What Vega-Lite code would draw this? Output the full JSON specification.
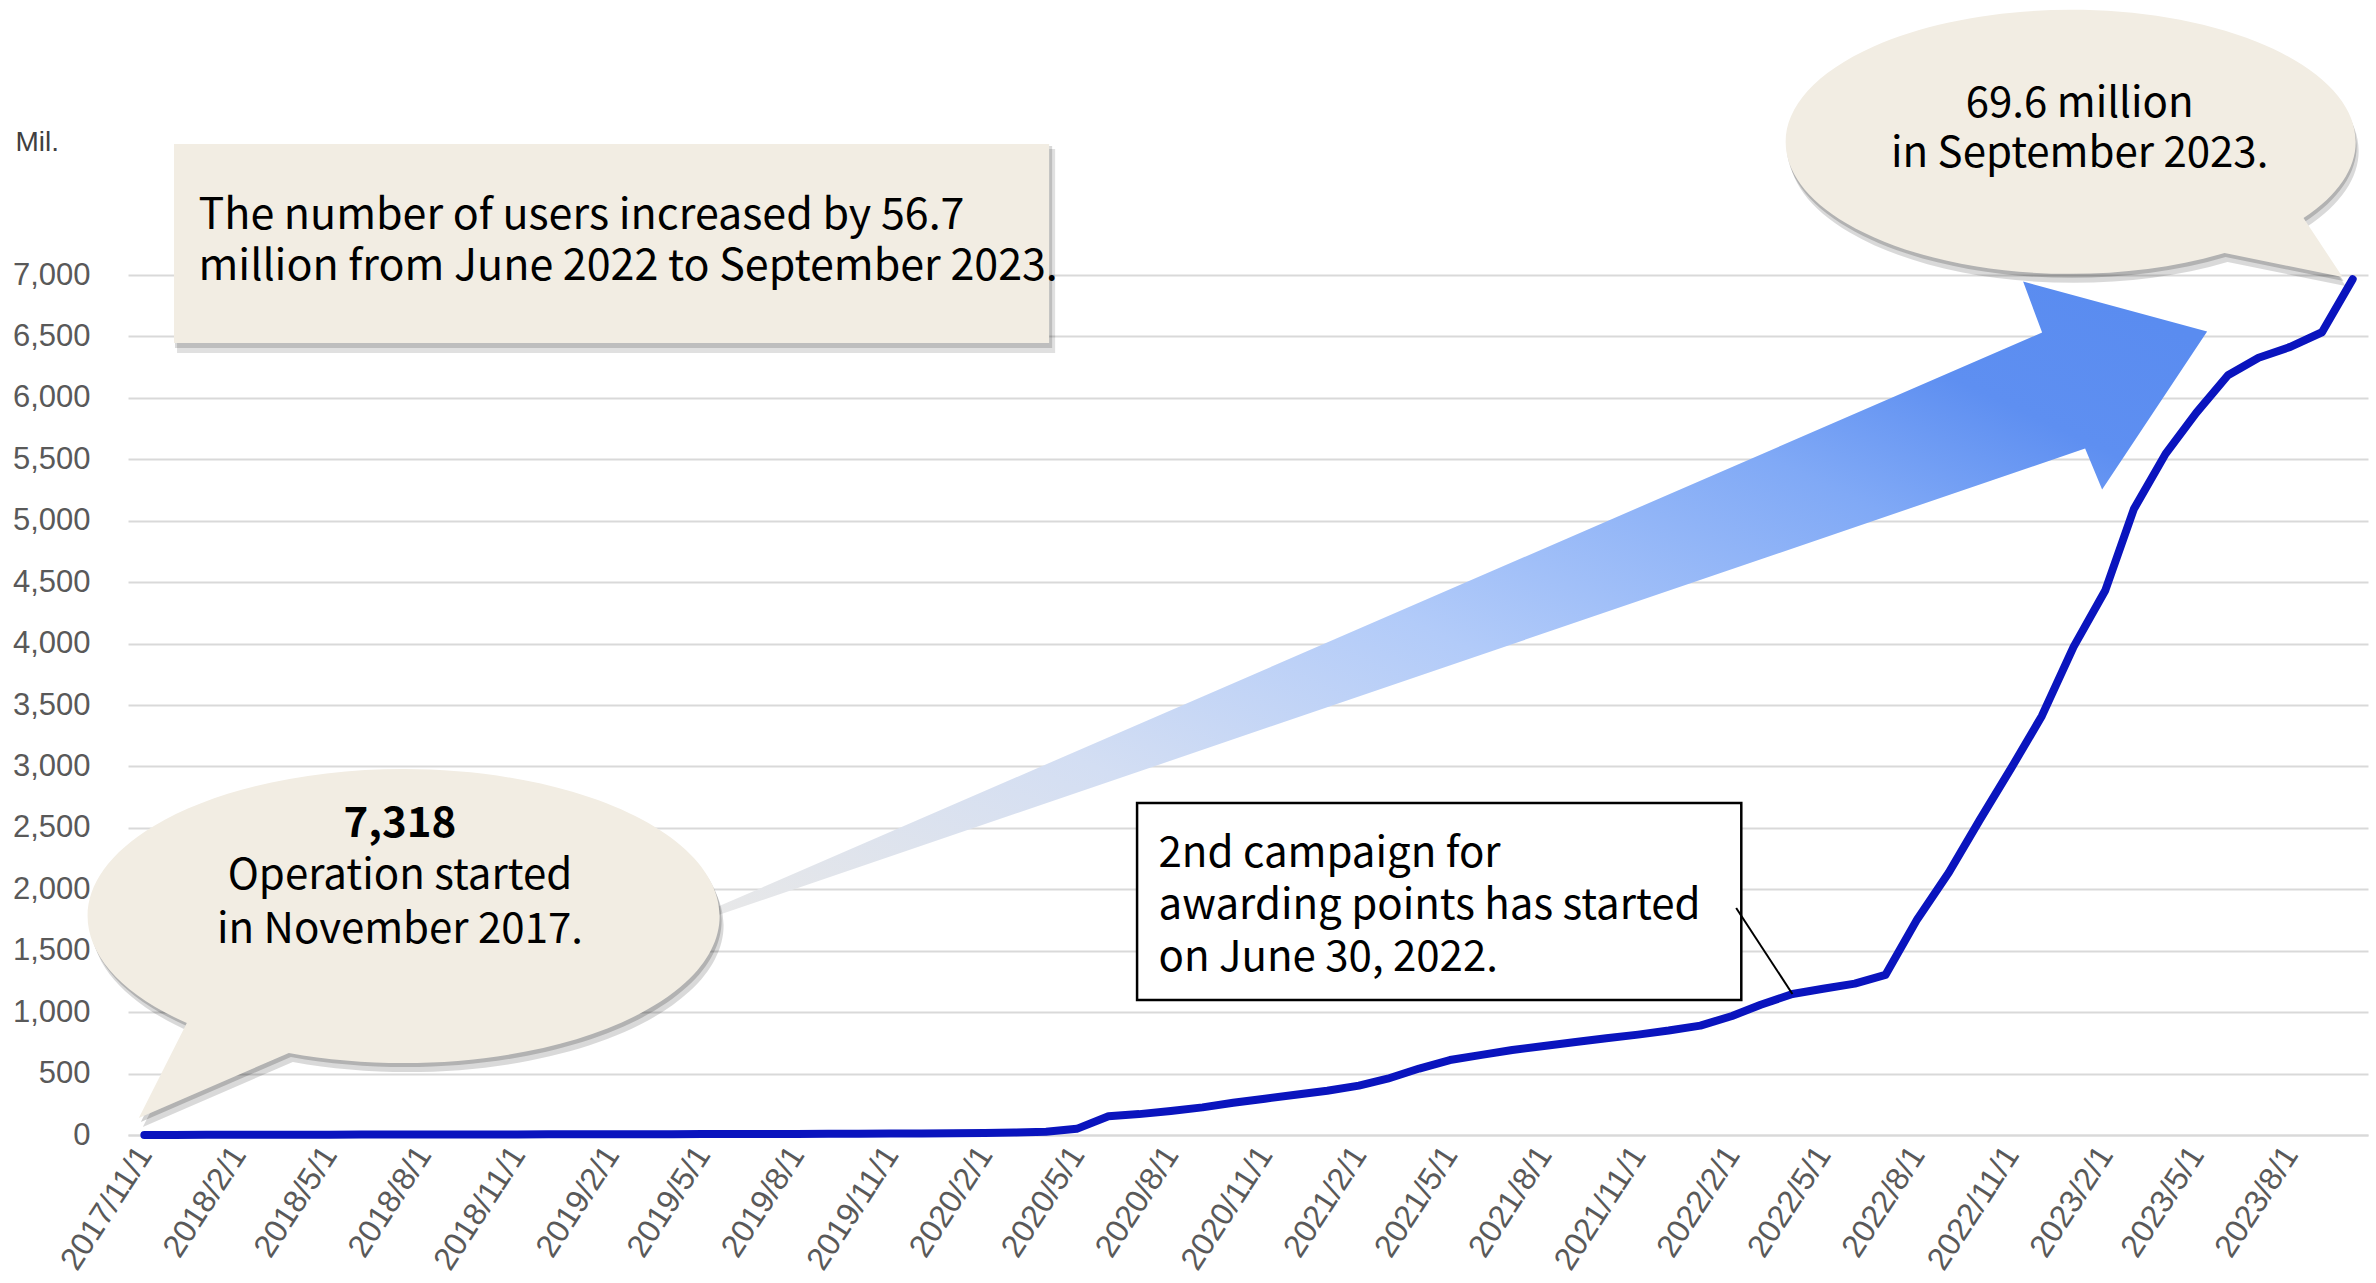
{
  "$schema": "https://vega.github.io/schema/vega-lite/v6.json",
  "autosize": {"type": "none"},
  "padding": {"left": 128, "top": 275, "right": 8, "bottom": 148},
  "width": 2240,
  "height": 860,
  "background": "white",
  "config": {"view": {"stroke": null}},
  "layer": [
    {
      "data": {"values": [
        {"date": "2017/11/01", "users": 0.7},
        {"date": "2017/12/01", "users": 1},
        {"date": "2018/01/01", "users": 1.5},
        {"date": "2018/02/01", "users": 2},
        {"date": "2018/03/01", "users": 2.5},
        {"date": "2018/04/01", "users": 3},
        {"date": "2018/05/01", "users": 3},
        {"date": "2018/06/01", "users": 3.5},
        {"date": "2018/07/01", "users": 4},
        {"date": "2018/08/01", "users": 4},
        {"date": "2018/09/01", "users": 4.5},
        {"date": "2018/10/01", "users": 5},
        {"date": "2018/11/01", "users": 5},
        {"date": "2018/12/01", "users": 5.5},
        {"date": "2019/01/01", "users": 6},
        {"date": "2019/02/01", "users": 6},
        {"date": "2019/03/01", "users": 7},
        {"date": "2019/04/01", "users": 7},
        {"date": "2019/05/01", "users": 8},
        {"date": "2019/06/01", "users": 8},
        {"date": "2019/07/01", "users": 9},
        {"date": "2019/08/01", "users": 9},
        {"date": "2019/09/01", "users": 10},
        {"date": "2019/10/01", "users": 11},
        {"date": "2019/11/01", "users": 12},
        {"date": "2019/12/01", "users": 13},
        {"date": "2020/01/01", "users": 14},
        {"date": "2020/02/01", "users": 16},
        {"date": "2020/03/01", "users": 20},
        {"date": "2020/04/01", "users": 27},
        {"date": "2020/05/01", "users": 50},
        {"date": "2020/06/01", "users": 152},
        {"date": "2020/07/01", "users": 170},
        {"date": "2020/08/01", "users": 195},
        {"date": "2020/09/01", "users": 225},
        {"date": "2020/10/01", "users": 262},
        {"date": "2020/11/01", "users": 295},
        {"date": "2020/12/01", "users": 328},
        {"date": "2021/01/01", "users": 360},
        {"date": "2021/02/01", "users": 402},
        {"date": "2021/03/01", "users": 458},
        {"date": "2021/04/01", "users": 541},
        {"date": "2021/05/01", "users": 610},
        {"date": "2021/06/01", "users": 652},
        {"date": "2021/07/01", "users": 692},
        {"date": "2021/08/01", "users": 725},
        {"date": "2021/09/01", "users": 757},
        {"date": "2021/10/01", "users": 787},
        {"date": "2021/11/01", "users": 817},
        {"date": "2021/12/01", "users": 850},
        {"date": "2022/01/01", "users": 890},
        {"date": "2022/02/01", "users": 969},
        {"date": "2022/03/01", "users": 1060},
        {"date": "2022/04/01", "users": 1148},
        {"date": "2022/05/01", "users": 1190},
        {"date": "2022/06/01", "users": 1232},
        {"date": "2022/07/01", "users": 1303},
        {"date": "2022/08/01", "users": 1755},
        {"date": "2022/09/01", "users": 2136},
        {"date": "2022/10/01", "users": 2561},
        {"date": "2022/11/01", "users": 2986},
        {"date": "2022/12/01", "users": 3411},
        {"date": "2023/01/01", "users": 3973},
        {"date": "2023/02/01", "users": 4432},
        {"date": "2023/03/01", "users": 5095},
        {"date": "2023/04/01", "users": 5544},
        {"date": "2023/05/01", "users": 5878},
        {"date": "2023/06/01", "users": 6184},
        {"date": "2023/07/01", "users": 6327},
        {"date": "2023/08/01", "users": 6415},
        {"date": "2023/09/01", "users": 6534},
        {"date": "2023/10/01", "users": 6966}
      ]},
      "mark": {"type": "line", "color": "#0A14BE", "strokeWidth": 8, "strokeCap": "round", "strokeJoin": "round"},
      "encoding": {
        "x": {
          "field": "date", "type": "temporal",
          "scale": {"domain": [{"year": 2017, "month": 10, "date": 16}, {"year": 2023, "month": 10, "date": 16}], "nice": false},
          "axis": {
            "title": null,
            "values": [
              {"year": 2017, "month": 11, "date": 1}, {"year": 2018, "month": 2, "date": 1}, {"year": 2018, "month": 5, "date": 1}, {"year": 2018, "month": 8, "date": 1},
              {"year": 2018, "month": 11, "date": 1}, {"year": 2019, "month": 2, "date": 1}, {"year": 2019, "month": 5, "date": 1}, {"year": 2019, "month": 8, "date": 1},
              {"year": 2019, "month": 11, "date": 1}, {"year": 2020, "month": 2, "date": 1}, {"year": 2020, "month": 5, "date": 1}, {"year": 2020, "month": 8, "date": 1},
              {"year": 2020, "month": 11, "date": 1}, {"year": 2021, "month": 2, "date": 1}, {"year": 2021, "month": 5, "date": 1}, {"year": 2021, "month": 8, "date": 1},
              {"year": 2021, "month": 11, "date": 1}, {"year": 2022, "month": 2, "date": 1}, {"year": 2022, "month": 5, "date": 1}, {"year": 2022, "month": 8, "date": 1},
              {"year": 2022, "month": 11, "date": 1}, {"year": 2023, "month": 2, "date": 1}, {"year": 2023, "month": 5, "date": 1}, {"year": 2023, "month": 8, "date": 1}
            ],
            "format": "%Y/%-m/%-d",
            "labelAngle": -57,
            "labelAlign": "right",
            "labelBaseline": "middle",
            "labelFont": "Liberation Sans",
            "labelFontSize": 32,
            "labelColor": "#595959",
            "labelPadding": 14,
            "labelOverlap": false,
            "labelFlush": false,
            "labelBound": false,
            "ticks": false,
            "grid": false,
            "domain": true,
            "domainColor": "#d9d9d9",
            "domainWidth": 2
          }
        },
        "y": {
          "field": "users", "type": "quantitative",
          "scale": {"domain": [0, 7000], "nice": false},
          "axis": {
            "values": [0, 500, 1000, 1500, 2000, 2500, 3000, 3500, 4000, 4500, 5000, 5500, 6000, 6500, 7000],
            "format": ",d",
            "labelFont": "Liberation Sans",
            "labelFontSize": 31,
            "labelColor": "#595959",
            "labelPadding": 38,
            "labelFlush": false,
            "labelOverlap": false,
            "ticks": false,
            "domain": false,
            "grid": true,
            "gridColor": "#d9d9d9",
            "gridWidth": 2,
            "title": "Mil.",
            "titleAngle": 0,
            "titleX": -113,
            "titleY": -133,
            "titleAlign": "left",
            "titleBaseline": "middle",
            "titleFont": "Liberation Sans",
            "titleFontSize": 28,
            "titleFontWeight": "normal",
            "titleColor": "#404040"
          }
        }
      }
    },
    {
      "data": {"values": [{"date": "2017/11/30", "date2": "2020/04/04", "value": 8066, "value2": 6446}]},
      "layer": [
        {"mark": {"type": "rect", "fill": "#000000", "opacity": 0.12, "xOffset": 3, "x2Offset": 6, "yOffset": 5, "y2Offset": 10}},
        {"mark": {"type": "rect", "fill": "#000000", "opacity": 0.15, "xOffset": 1, "x2Offset": 3, "yOffset": 2, "y2Offset": 5}},
        {"mark": {"type": "rect", "fill": "#F2EDE3"}}
      ],
      "encoding": {
        "x": {"field": "date", "type": "temporal"},
        "x2": {"field": "date2"},
        "y": {"field": "value", "type": "quantitative"},
        "y2": {"field": "value2"}
      }
    },
    {
      "data": {"values": [{"date": "2017/12/24", "value": 7480, "label": "The number of users increased by 56.7\nmillion from June 2022 to September 2023."}]},
      "mark": {"type": "text", "font": "Noto Sans CJK JP", "fontSize": 43, "align": "left", "baseline": "middle", "lineBreak": "\n", "lineHeight": 51, "color": "#000000"},
      "encoding": {
        "x": {"field": "date", "type": "temporal"},
        "y": {"field": "value", "type": "quantitative"},
        "text": {"field": "label"}
      }
    },
    {
      "data": {"values": [{"date": "2021/05/10", "value": 4350}]},
      "mark": {
        "type": "point", "filled": true, "opacity": 1, "strokeWidth": 0, "size": 4,
        "shape": "M-748,309L583,-268L564,-319L748,-269L643,-111L626,-152L-748,317Z",
        "fill": {"gradient": "linear", "x1": 0, "y1": 1, "x2": 1, "y2": 0.1,
          "stops": [
            {"offset": 0, "color": "#E8E8E8"},
            {"offset": 0.26, "color": "#D3DEF3"},
            {"offset": 0.49, "color": "#B2CBF9"},
            {"offset": 0.75, "color": "#80A9F6"},
            {"offset": 0.88, "color": "#5E8FF1"},
            {"offset": 1, "color": "#5A8CF0"}
          ]}
      },
      "encoding": {
        "x": {"field": "date", "type": "temporal"},
        "y": {"field": "value", "type": "quantitative"}
      }
    },
    {
      "data": {"values": [{"date": "2018/07/03", "value": 1823}]},
      "layer": [
        {"mark": {"type": "point", "filled": true, "opacity": 0.15, "strokeWidth": 0, "size": 4, "fill": "#000000", "xOffset": 4, "yOffset": 9,
          "shape": "M-105,142L-255,207L-207,112A316,147,0,1,1,-105,142Z"}},
        {"mark": {"type": "point", "filled": true, "opacity": 0.18, "strokeWidth": 0, "size": 4, "fill": "#000000", "xOffset": 2, "yOffset": 4,
          "shape": "M-105,142L-255,207L-207,112A316,147,0,1,1,-105,142Z"}},
        {"mark": {"type": "point", "filled": true, "opacity": 1, "strokeWidth": 0, "size": 4, "fill": "#F2EDE3",
          "shape": "M-105,142L-255,207L-207,112A316,147,0,1,1,-105,142Z"}}
      ],
      "encoding": {
        "x": {"field": "date", "type": "temporal"},
        "y": {"field": "value", "type": "quantitative"}
      }
    },
    {
      "data": {"values": [
        {"date": "2018/07/09", "value": 2531, "label": "7,318", "weight": "bold"},
        {"date": "2018/07/09", "value": 2108, "label": "Operation started\nin November 2017.", "weight": "normal"}
      ]},
      "layer": [
        {"transform": [{"filter": "datum.weight === 'bold'"}],
         "mark": {"type": "text", "font": "Noto Sans CJK JP", "fontSize": 42, "fontWeight": "bold", "align": "center", "baseline": "middle", "color": "#000000"}},
        {"transform": [{"filter": "datum.weight === 'normal'"}],
         "mark": {"type": "text", "font": "Noto Sans CJK JP", "fontSize": 42, "align": "center", "baseline": "middle", "lineBreak": "\n", "lineHeight": 54, "color": "#000000"}}
      ],
      "encoding": {
        "x": {"field": "date", "type": "temporal"},
        "y": {"field": "value", "type": "quantitative"},
        "text": {"field": "label"}
      }
    },
    {
      "data": {"values": [{"date": "2022/12/30", "value": 8099}]},
      "layer": [
        {"mark": {"type": "point", "filled": true, "opacity": 0.15, "strokeWidth": 0, "size": 4, "fill": "#000000", "xOffset": 3, "yOffset": 9,
          "shape": "M232,78L271,137L153,113A285,132,0,1,1,232,78Z"}},
        {"mark": {"type": "point", "filled": true, "opacity": 0.18, "strokeWidth": 0, "size": 4, "fill": "#000000", "xOffset": 1, "yOffset": 4,
          "shape": "M232,78L271,137L153,113A285,132,0,1,1,232,78Z"}},
        {"mark": {"type": "point", "filled": true, "opacity": 1, "strokeWidth": 0, "size": 4, "fill": "#F2EDE3",
          "shape": "M232,78L271,137L153,113A285,132,0,1,1,232,78Z"}}
      ],
      "encoding": {
        "x": {"field": "date", "type": "temporal"},
        "y": {"field": "value", "type": "quantitative"}
      }
    },
    {
      "data": {"values": [{"date": "2023/01/07", "value": 8392, "label": "69.6 million\nin September 2023."}]},
      "mark": {"type": "text", "font": "Noto Sans CJK JP", "fontSize": 42, "align": "center", "baseline": "middle", "lineBreak": "\n", "lineHeight": 50, "color": "#000000"},
      "encoding": {
        "x": {"field": "date", "type": "temporal"},
        "y": {"field": "value", "type": "quantitative"},
        "text": {"field": "label"}
      }
    },
    {
      "data": {"values": [{"date": "2020/06/29", "date2": "2022/02/10", "value": 2702, "value2": 1099}]},
      "mark": {"type": "rect", "fill": "#FFFFFF", "stroke": "#000000", "strokeWidth": 2.5},
      "encoding": {
        "x": {"field": "date", "type": "temporal"},
        "x2": {"field": "date2"},
        "y": {"field": "value", "type": "quantitative"},
        "y2": {"field": "value2"}
      }
    },
    {
      "data": {"values": [{"date": "2022/02/05", "date2": "2022/04/01", "value": 1848, "value2": 1148}]},
      "mark": {"type": "rule", "color": "#000000", "strokeWidth": 2},
      "encoding": {
        "x": {"field": "date", "type": "temporal"},
        "x2": {"field": "date2"},
        "y": {"field": "value", "type": "quantitative"},
        "y2": {"field": "value2"}
      }
    },
    {
      "data": {"values": [{"date": "2020/07/20", "value": 2287, "label": "2nd campaign for\nawarding points has started\non June 30, 2022."}]},
      "mark": {"type": "text", "font": "Noto Sans CJK JP", "fontSize": 42, "align": "left", "baseline": "middle", "lineBreak": "\n", "lineHeight": 52, "color": "#000000"},
      "encoding": {
        "x": {"field": "date", "type": "temporal"},
        "y": {"field": "value", "type": "quantitative"},
        "text": {"field": "label"}
      }
    }
  ]
}
